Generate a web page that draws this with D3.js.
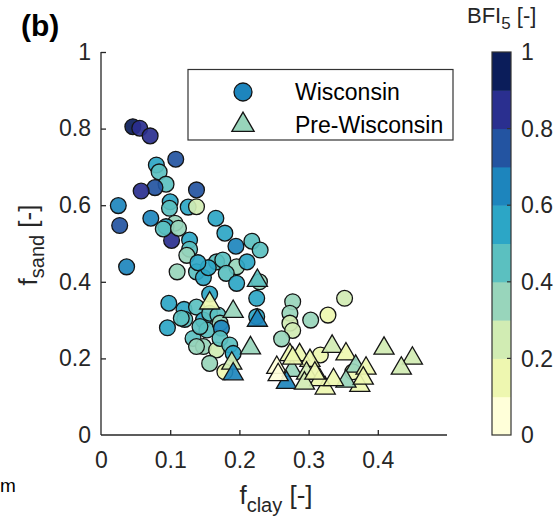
<!DOCTYPE html>
<html>
<head>
<meta charset="utf-8">
<script src="https://cdn.jsdelivr.net/npm/d3@7"></script>
<style>
  html, body { margin: 0; padding: 0; background: #fff; }
  svg { display: block; font-family: "Liberation Sans", Arial, sans-serif; }
</style>
</head>
<body>
<svg id="chart" width="557" height="524"></svg>
<script>
// Wisconsin-age sites: clay fraction, sand fraction, BFI5
const wiscClay = [0.046,0.056,0.071,0.108,0.080,0.084,0.094,0.078,0.058,0.138,
  0.025,0.100,0.099,0.126,0.138,0.072,0.027,0.107,0.094,0.166,
  0.037,0.102,0.090,0.112,0.128,0.128,0.124,0.179,0.195,0.218,
  0.230,0.110,0.138,0.148,0.167,0.176,0.196,0.211,0.181,0.155,
  0.140,0.196,0.229,0.225,0.225,0.098,0.120,0.121,0.096,0.138,
  0.157,0.148,0.153,0.133,0.148,0.157,0.169,0.116,0.172,0.143,
  0.174,0.167,0.172,0.186,0.191,0.157,0.179,0.138,0.277,0.273,
  0.273,0.277,0.261,0.303,0.328,0.352,0.317,0.364];
const wiscSand = [0.805,0.801,0.781,0.720,0.705,0.687,0.655,0.646,0.637,0.640,
  0.599,0.609,0.592,0.595,0.596,0.566,0.547,0.553,0.544,0.566,
  0.439,0.508,0.538,0.540,0.509,0.485,0.469,0.527,0.493,0.506,
  0.483,0.426,0.426,0.411,0.452,0.457,0.439,0.452,0.422,0.437,
  0.450,0.396,0.400,0.357,0.309,0.344,0.328,0.302,0.280,0.334,
  0.368,0.300,0.274,0.252,0.231,0.318,0.313,0.305,0.292,0.283,
  0.279,0.222,0.252,0.235,0.213,0.187,0.165,0.231,0.348,0.318,
  0.292,0.273,0.251,0.300,0.313,0.357,0.209,0.165];
const wiscBfi = [0.95,0.85,0.85,0.75,0.55,0.45,0.45,0.75,0.85,0.75,
  0.65,0.55,0.45,0.55,0.25,0.65,0.75,0.35,0.55,0.55,
  0.65,0.85,0.45,0.35,0.55,0.45,0.35,0.55,0.65,0.45,
  0.45,0.35,0.45,0.55,0.45,0.45,0.35,0.55,0.45,0.55,
  0.55,0.55,0.35,0.55,0.55,0.55,0.55,0.45,0.55,0.45,
  0.55,0.55,0.45,0.45,0.35,0.45,0.45,0.45,0.35,0.45,
  0.65,0.25,0.45,0.45,0.55,0.35,0.15,0.35,0.35,0.35,
  0.25,0.25,0.35,0.35,0.15,0.25,0.15,0.15];

// Pre-Wisconsin sites
const preClay = [0.157,0.191,0.226,0.226,0.216,0.189,0.191,0.334,0.354,0.409,
  0.450,0.434,0.368,0.383,0.374,0.354,0.287,0.302,0.254,0.276,
  0.297,0.324,0.268,0.256,0.316,0.336,0.294,0.273,0.379,0.277,
  0.309];
const preSand = [0.348,0.326,0.407,0.303,0.231,0.191,0.163,0.235,0.215,0.230,
  0.204,0.178,0.183,0.178,0.133,0.144,0.213,0.198,0.180,0.172,
  0.165,0.126,0.141,0.161,0.148,0.148,0.139,0.213,0.152,0.204,
  0.165];
const preBfi = [0.15,0.35,0.45,0.65,0.35,0.25,0.65,0.25,0.15,0.25,
  0.25,0.25,0.35,0.15,0.15,0.35,0.15,0.15,0.05,0.35,
  0.25,0.15,0.65,0.05,0.15,0.15,0.25,0.15,0.15,0.15,
  0.15];

const xTicks = [0, 0.1, 0.2, 0.3, 0.4];
const yTicks = [0, 0.2, 0.4, 0.6, 0.8, 1];
const cbTicks = [0, 0.2, 0.4, 0.6, 0.8, 1];

// 10-step yellow-green-blue colour map
const palette = ["#ffffd9","#eef7b0","#d1ecb3","#98d5bb","#5bc0c0",
  "#2ca6c6","#1d85bd","#2354a1","#2a2f8f","#0b1d5a"];

const svg = d3.select("#chart");
const axisColor = "#262626";
const tickFont = 23;

const x = d3.scaleLinear().domain([0, 0.5]).range([101, 447]);
const y = d3.scaleLinear().domain([0, 1]).range([435, 52]);
const color = d3.scaleQuantize().domain([0, 1]).range(palette);

// axes (left and bottom only, ticks inward)
const fmt = d => (d === 0 || d === 1) ? String(d) : d3.format(".1f")(d);
const xAxis = d3.axisBottom(x).tickValues(xTicks).tickSize(-5).tickPadding(17).tickFormat(fmt);
const yAxis = d3.axisLeft(y).tickValues(yTicks).tickSize(-5).tickPadding(10).tickFormat(fmt);

const gx = svg.append("g").attr("transform", "translate(0,435)").call(xAxis);
const gy = svg.append("g").attr("transform", "translate(101,0)").call(yAxis);
[gx, gy].forEach(g => {
  g.select(".domain").attr("stroke", axisColor).attr("stroke-width", 1.3);
  g.selectAll(".tick line").attr("stroke", axisColor).attr("stroke-width", 1.3);
  g.selectAll(".tick text").attr("fill", axisColor).attr("font-size", tickFont)
    .attr("font-family", "Liberation Sans, Arial, sans-serif");
});
// plain axis lines without end caps
gx.select(".domain").attr("d", `M${x(0)},0H${x(0.5)}`);
gy.select(".domain").attr("d", `M0,${y(0)}V${y(1)}`);
gy.selectAll(".tick").filter(d => d === 0).select("line").remove();
gx.selectAll(".tick").filter(d => d === 0).select("line").remove();

// markers
const wisc = wiscClay.map((c, i) => ({c, s: wiscSand[i], b: wiscBfi[i]}));
const pre = preClay.map((c, i) => ({c, s: preSand[i], b: preBfi[i]}));

svg.append("g").selectAll("circle").data(wisc).join("circle")
  .attr("cx", d => x(d.c)).attr("cy", d => y(d.s)).attr("r", 7.9)
  .attr("fill", d => color(d.b)).attr("fill-opacity", 0.92)
  .attr("stroke", "#141414").attr("stroke-width", 1.3);

const tri = d3.symbol().type(d3.symbolTriangle).size(175);
svg.append("g").selectAll("path").data(pre).join("path")
  .attr("d", tri)
  .attr("transform", d => `translate(${x(d.c)},${y(d.s) + 1.5})`)
  .attr("fill", d => color(d.b)).attr("fill-opacity", 0.92)
  .attr("stroke", "#141414").attr("stroke-width", 1.3);

// axis titles
const yl = svg.append("text").attr("transform", "translate(37,245) rotate(-90)")
  .attr("text-anchor", "middle").attr("font-size", 26).attr("fill", axisColor);
yl.append("tspan").text("f");
yl.append("tspan").attr("font-size", 20).attr("dy", 7).text("sand");
yl.append("tspan").attr("dy", -7).text(" [-]");

const xl = svg.append("text").attr("x", 276).attr("y", 504)
  .attr("text-anchor", "middle").attr("font-size", 26).attr("fill", axisColor);
xl.append("tspan").text("f");
xl.append("tspan").attr("font-size", 20).attr("dy", 8).text("clay");
xl.append("tspan").attr("dy", -8).text(" [-]");

// panel letter
svg.append("text").attr("x", 21).attr("y", 36).attr("font-size", 30)
  .attr("font-weight", "bold").attr("fill", "#000").text("(b)");

// edge of the neighbouring panel's label
svg.append("text").attr("x", 0).attr("y", 492).attr("font-size", 19)
  .attr("fill", "#000").text("m");

// legend
const lg = svg.append("g");
lg.append("rect").attr("x", 188).attr("y", 69.5).attr("width", 265).attr("height", 70.5)
  .attr("fill", "#fff").attr("stroke", "#333").attr("stroke-width", 1.2);
lg.append("circle").attr("cx", 243).attr("cy", 92).attr("r", 9)
  .attr("fill", palette[6]).attr("stroke", "#141414").attr("stroke-width", 1.3);
lg.append("path").attr("d", d3.symbol().type(d3.symbolTriangle).size(215))
  .attr("transform", "translate(243,125)")
  .attr("fill", palette[3]).attr("stroke", "#141414").attr("stroke-width", 1.3);
lg.append("text").attr("x", 295).attr("y", 100).attr("font-size", 23)
  .attr("fill", "#000").text("Wisconsin");
lg.append("text").attr("x", 295).attr("y", 133).attr("font-size", 23)
  .attr("fill", "#000").text("Pre-Wisconsin");

// colour bar
const cb = d3.scaleLinear().domain([0, 1]).range([435, 52]);
const cbg = svg.append("g");
const steps = d3.range(10);
cbg.selectAll("rect.step").data(steps).join("rect").attr("class", "step")
  .attr("x", 492).attr("width", 19)
  .attr("y", i => cb((i + 1) / 10)).attr("height", i => cb(i / 10) - cb((i + 1) / 10) + 0.5)
  .attr("fill", i => palette[i]);
cbg.append("rect").attr("x", 492).attr("y", 52).attr("width", 19).attr("height", 383)
  .attr("fill", "none").attr("stroke", "#333").attr("stroke-width", 1.2);
cbg.selectAll("line.tk").data(cbTicks.filter(t => t > 0 && t < 1)).join("line")
  .attr("class", "tk").attr("x1", 511).attr("x2", 507)
  .attr("y1", d => cb(d)).attr("y2", d => cb(d)).attr("stroke", "#333").attr("stroke-width", 1.2);
cbg.selectAll("text.tl").data(cbTicks).join("text").attr("class", "tl")
  .attr("x", 521).attr("y", d => cb(d)).attr("dy", "0.36em")
  .attr("font-size", tickFont).attr("fill", axisColor)
  .text(fmt);

const ct = svg.append("text").attr("x", 467).attr("y", 23).attr("font-size", 22).attr("fill", axisColor);
ct.append("tspan").text("BFI");
ct.append("tspan").attr("font-size", 17).attr("dy", 6).text("5");
ct.append("tspan").attr("dy", -6).text(" [-]");
</script>
</body>
</html>
